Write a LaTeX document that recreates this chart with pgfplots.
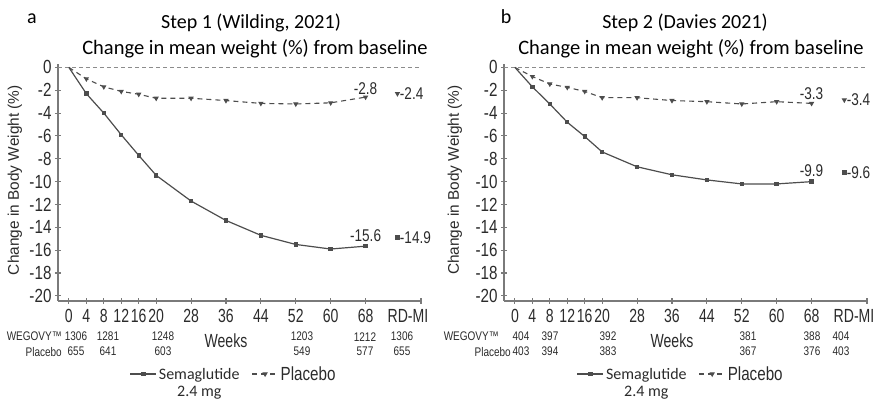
\documentclass[border=0pt]{standalone}
\usepackage{fontspec}
\setmainfont{Carlito}
\newfontfamily\narrow[FakeStretch=0.8]{Liberation Sans}
\newfontfamily\condensed[FakeStretch=0.74]{Liberation Sans}
\newfontfamily\arialfont{Liberation Sans}
\usepackage{pgfplots}
\pgfplotsset{compat=1.18}

\definecolor{lineg}{HTML}{4D4D4D}
\definecolor{axisg}{HTML}{7A7A7A}
\definecolor{zerog}{HTML}{8C8C8C}
\definecolor{txt}{HTML}{2B2B2B}

\pgfplotsset{
  stepax/.style={
    scale only axis, width=363pt, height=237pt,
    xmin=-2.5, xmax=80.7, ymin=-20.45, ymax=0.3,
    axis x line=bottom, axis y line=left,
    axis line style={axisg, line width=1.2pt, -},
    ytick={0,-2,...,-20},
    yticklabels={0,-2,-4,-6,-8,-10,-12,-14,-16,-18,-20},
    xtick={0,4,8,12,16,20,28,36,44,52,60,68},
    xticklabels={0,4,8,12,16,20,28,36,44,52,60,68},
    extra x ticks={80.7}, extra x tick labels={RD-MI},
    extra x tick style={xticklabel style={xshift=-13pt}},
    tick align=center, major tick length=6pt,
    tick style={axisg, line width=1.1pt},
    yticklabel style={font=\narrow\fontsize{19}{19}\selectfont, text=txt},
    xticklabel style={font=\condensed\fontsize{19}{19}\selectfont, text=txt, yshift=-2pt},
    ylabel={Change in Body Weight (\%)},
    ylabel style={font=\arialfont\fontsize{15.4}{16}\selectfont, text=txt, anchor=center},
    clip=false,
    legend columns=2,
    legend style={draw=none, fill=none, inner sep=0pt, anchor=west,
      font=\fontsize{16}{17}\selectfont, text=txt,
      /tikz/column 2/.style={column sep=10pt}},
    legend image code/.code={\draw[mark repeat=2,mark phase=2,##1] plot coordinates {(0pt,0pt) (13pt,0pt) (26pt,0pt)};},
  },
  sema/.style={lineg, line width=1.2pt, mark=square*, mark size=1.6pt, mark options={solid}},
  plac/.style={lineg, line width=1.1pt, dash pattern=on 5pt off 4pt, mark=triangle*, mark size=2pt, mark options={solid, rotate=180}},
  zline/.style={zerog, line width=1pt, dash pattern=on 4pt off 3pt, forget plot},
}

\begin{document}
\begin{tikzpicture}
\path[use as bounding box] (0,0) rectangle (876pt,403pt);

% ---- panel a: Step 1
\begin{axis}[stepax, at={(58pt,102pt)}, anchor=south west,
  ylabel style={at={(axis description cs:-0.1185,0.51)}},
  legend style={at={(axis description cs:0.197,-0.308)}}]
\addplot[zline] coordinates {(-2.5,0) (80.7,0)};
\addplot[sema, mark phase=2] coordinates {
(0,0) (4,-2.3) (8,-4.0) (12,-5.9) (16,-7.7) (20,-9.45) (28,-11.7)
(36,-13.4) (44,-14.7) (52,-15.5) (60,-15.9) (68,-15.65)
};
\addlegendentry{\begin{tabular}[t]{@{}c@{}}Semaglutide\\2.4 mg\end{tabular}}
\addplot[plac, mark phase=2] coordinates {
(0,0) (4,-1.0) (8,-1.7) (12,-2.1) (16,-2.35) (20,-2.7) (28,-2.7)
(36,-2.9) (44,-3.15) (52,-3.2) (60,-3.1) (68,-2.6)
};
\addlegendentry{\narrow\fontsize{19}{19}\selectfont Placebo}
\addplot[sema, only marks, forget plot] coordinates {(75.3,-14.9)};
\addplot[plac, only marks, forget plot] coordinates {(75.3,-2.3)};
\node[font=\narrow\fontsize{17}{17}\selectfont, text=txt, anchor=south, inner sep=1pt] at (axis cs:68,-2.45) {-2.8};
\node[font=\narrow\fontsize{17}{17}\selectfont, text=txt, anchor=west, inner sep=1pt] at (axis cs:75.6,-2.3) {-2.4};
\node[font=\narrow\fontsize{17}{17}\selectfont, text=txt, anchor=south, inner sep=1pt] at (axis cs:68,-15.35) {-15.6};
\node[font=\narrow\fontsize{17}{17}\selectfont, text=txt, anchor=west, inner sep=1pt] at (axis cs:75.6,-14.9) {-14.9};
\end{axis}

% ---- panel b: Step 2
\begin{axis}[stepax, at={(504pt,102pt)}, anchor=south west,
  ylabel style={at={(axis description cs:-0.135,0.51)}},
  legend style={at={(axis description cs:0.2,-0.308)}}]
\addplot[zline] coordinates {(-2.5,0) (80.7,0)};
\addplot[sema, mark phase=2] coordinates {
(0,0) (4,-1.7) (8,-3.2) (12,-4.8) (16,-6.05) (20,-7.4) (28,-8.7)
(36,-9.4) (44,-9.85) (52,-10.2) (60,-10.2) (68,-10.0)
};
\addlegendentry{\begin{tabular}[t]{@{}c@{}}Semaglutide\\2.4 mg\end{tabular}}
\addplot[plac, mark phase=2] coordinates {
(0,0) (4,-0.8) (8,-1.45) (12,-1.75) (16,-2.1) (20,-2.65) (28,-2.65)
(36,-2.9) (44,-3.0) (52,-3.2) (60,-3.0) (68,-3.15)
};
\addlegendentry{\narrow\fontsize{19}{19}\selectfont Placebo}
\addplot[sema, only marks, forget plot] coordinates {(75.5,-9.2)};
\addplot[plac, only marks, forget plot] coordinates {(75.5,-2.85)};
\node[font=\narrow\fontsize{17}{17}\selectfont, text=txt, anchor=south, inner sep=1pt] at (axis cs:68,-2.9) {-3.3};
\node[font=\narrow\fontsize{17}{17}\selectfont, text=txt, anchor=west, inner sep=1pt] at (axis cs:75.8,-2.85) {-3.4};
\node[font=\narrow\fontsize{17}{17}\selectfont, text=txt, anchor=south, inner sep=1pt] at (axis cs:68,-9.7) {-9.9};
\node[font=\narrow\fontsize{17}{17}\selectfont, text=txt, anchor=west, inner sep=1pt] at (axis cs:75.8,-9.2) {-9.6};
\end{axis}

% ---- titles
\node[anchor=base, font=\fontsize{20}{20}\selectfont] at (32pt,379pt) {a};
\node[anchor=base, font=\fontsize{20}{20}\selectfont] at (251pt,374pt) {Step 1 (Wilding, 2021)};
\node[anchor=base, font=\fontsize{20.5}{20}\selectfont] at (255pt,348pt) {Change in mean weight (\%) from baseline};
\node[anchor=base, font=\fontsize{20}{20}\selectfont] at (506pt,379pt) {b};
\node[anchor=base, font=\fontsize{20}{20}\selectfont] at (685pt,374pt) {Step 2 (Davies 2021)};
\node[anchor=base, font=\fontsize{20.5}{20}\selectfont] at (691pt,348pt) {Change in mean weight (\%) from baseline};

% ---- number at risk rows
\begin{scope}[every node/.style={inner sep=0pt, text=txt, font=\narrow\fontsize{12.5}{13}\selectfont}]
\node[anchor=east] at (62pt,66.3pt) {WEGOVY™};
\node[anchor=east] at (62pt,51.3pt) {Placebo};
\foreach \x/\a/\b in {76/1306/655, 108/1281/641, 163/1248/603, 302/1203/549, 365/1212/577, 402/1306/655}
  {\node at (\x pt,66.3pt) {\a}; \node at (\x pt,51.3pt) {\b};}
\node[anchor=east] at (499pt,66.3pt) {WEGOVY™};
\node[anchor=east] at (511pt,51.3pt) {Placebo};
\foreach \x/\a/\b in {521/404/403, 550/397/394, 608/392/383, 748/381/367, 812/388/376, 841/404/403}
  {\node at (\x pt,66.3pt) {\a}; \node at (\x pt,51.3pt) {\b};}
\node[font=\condensed\fontsize{19}{19}\selectfont] at (226pt,62pt) {Weeks};
\node[font=\condensed\fontsize{19}{19}\selectfont] at (672pt,62pt) {Weeks};
\end{scope}
\end{tikzpicture}
\end{document}
